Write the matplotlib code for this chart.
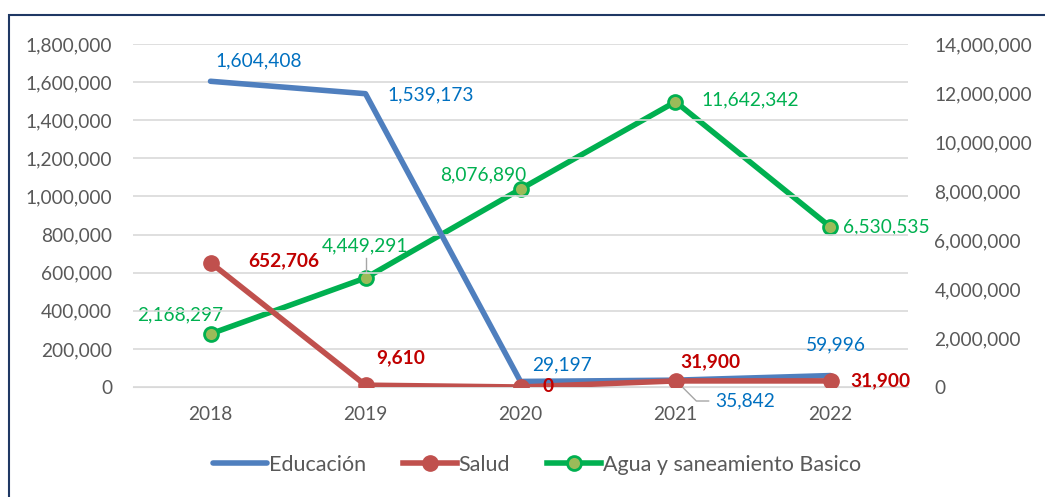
import matplotlib.pyplot as plt
from matplotlib.patches import Rectangle
from matplotlib.lines import Line2D
from matplotlib.ticker import FuncFormatter
from matplotlib.transforms import offset_copy

plt.rcParams['font.family'] = ['Lato', 'DejaVu Sans']

years = ['2018', '2019', '2020', '2021', '2022']
educacion = [1604408, 1539173, 29197, 35842, 59996]
salud = [652706, 9610, 0, 31900, 31900]
agua = [2168297, 4449291, 8076890, 11642342, 6530535]

c_edu = '#4F7FBE'
c_edu_txt = '#0070C0'
c_sal = '#C0504D'
c_sal_txt = '#C00000'
c_agua = '#00B050'
c_agua_face = '#9BBB59'
gray = '#595959'

fig = plt.figure(figsize=(10.45, 4.97), dpi=100)
ax = fig.add_axes([133 / 1045, 1 - 387 / 497, 775 / 1045, 343 / 497])
ax2 = ax.twinx()

x = list(range(len(years)))
ax.plot(x, educacion, color=c_edu, lw=4, solid_capstyle='round', zorder=3)
ax.plot(x, salud, color=c_sal, lw=4, marker='o', ms=11, mfc=c_sal, mec=c_sal,
        solid_capstyle='round', zorder=4)
ax2.plot(x, agua, color=c_agua, lw=4, marker='o', ms=10, mfc=c_agua_face, mec=c_agua,
         mew=2, solid_capstyle='round', zorder=4)

ax.set_xlim(-0.5, 4.5)
ax.set_ylim(0, 1800000)
ax2.set_ylim(0, 14000000)
ax.set_yticks(range(0, 1800001, 200000))
ax2.set_yticks(range(0, 14000001, 2000000))
fmt = FuncFormatter(lambda v, p: f'{int(v):,}')
ax.yaxis.set_major_formatter(fmt)
ax2.yaxis.set_major_formatter(fmt)
ax.set_xticks(x)
ax.set_xticklabels(years)

ax.grid(axis='y', color='#D9D9D9', lw=1.2)
ax.set_axisbelow(True)
for a in (ax, ax2):
    for s in a.spines.values():
        s.set_visible(False)
    a.tick_params(length=0, labelsize=13.8, colors=gray)
ax.spines['bottom'].set_visible(True)
ax.spines['bottom'].set_color('#D9D9D9')
ax.tick_params(axis='x', pad=14)
ax.tick_params(axis='y', pad=15)
ax2.tick_params(axis='y', pad=19)
ax.set_zorder(ax2.get_zorder() + 1)
ax.patch.set_visible(False)

fs = 13.8


def label(a, xv, yv, txt, dx, dy, **kw):
    tr = offset_copy(a.transData, fig=fig, x=dx, y=dy, units='points')
    a.text(xv, yv, txt, transform=tr, ha='center', va='center', fontsize=fs,
           zorder=6, clip_on=False, **kw)


edu_off = [(35, 15), (47, -1), (30, 12), (50, -15), (4, 22)]
for i, (dx, dy) in enumerate(edu_off):
    label(ax, x[i], educacion[i], f'{educacion[i]:,}', dx, dy, color=c_edu_txt)
# leader line for 2021 label
ax.annotate('', (x[3], educacion[3]), xytext=(24, -15), textcoords='offset points',
            arrowprops=dict(arrowstyle='-', color='#A6A6A6', lw=1, shrinkA=0, shrinkB=2,
                            connectionstyle='angle,angleA=0,angleB=-45'))

sal_off = [(53, 1), (25, 20), (20, 0), (25, 14), (36, 0)]
for i, (dx, dy) in enumerate(sal_off):
    label(ax, x[i], salud[i], f'{salud[i]:,}', dx, dy, color=c_sal_txt, fontweight='bold')

agua_off = [(-22, 14), (0, 23), (-27, 10), (54, 1), (40, 0)]
for i, (dx, dy) in enumerate(agua_off):
    label(ax2, x[i], agua[i], f'{agua[i]:,}', dx, dy, color=c_agua)
ax2.plot([x[1], x[1]], [agua[1] + 250000, agua[1] + 800000], color='#A6A6A6', lw=1, zorder=5)

handles = [
    Line2D([], [], color=c_edu, lw=4, solid_capstyle='round'),
    Line2D([], [], color=c_sal, lw=4, marker='o', ms=11, mfc=c_sal, mec=c_sal),
    Line2D([], [], color=c_agua, lw=4, marker='o', ms=10, mfc=c_agua_face, mec=c_agua, mew=2),
]
fig.legend(handles, ['Educación', 'Salud', 'Agua y saneamiento Basico'],
           loc='center', bbox_to_anchor=(537 / 1045, 1 - 465 / 497), ncol=3,
           frameon=False, fontsize=15.5, labelcolor=gray, handlelength=2.5,
           handletextpad=0.1, columnspacing=1.7)

fig.patches.append(Rectangle((9 / 1045, -0.1), 1.2, 1 - 15 / 497 + 0.1,
                             transform=fig.transFigure, fill=False,
                             edgecolor='#1F3864', lw=1.5))

fig.savefig('out.png', dpi=100)
